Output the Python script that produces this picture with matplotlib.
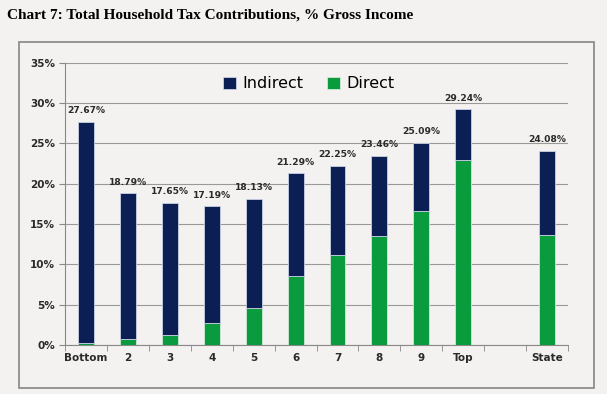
import numpy as np
import matplotlib
matplotlib.use("Agg")
import matplotlib.pyplot as plt
from matplotlib.patches import Rectangle

# Données
categories = ["Bottom", "2", "3", "4", "5", "6", "7", "8", "9", "Top", "", "State"]
totals = [27.67, 18.79, 17.65, 17.19, 18.13, 21.29, 22.25, 23.46, 25.09, 29.24, None, 24.08]
direct = [0.3, 0.75, 1.25, 2.7, 4.65, 8.55, 11.15, 13.5, 16.6, 22.9, None, 13.7]

bg = "#f3f2f0"
navy = "#0c1f55"
green = "#0b9b3f"

fig = plt.figure(figsize=(6.07, 3.94), dpi=100, facecolor=bg)
ax = fig.add_axes([0.107, 0.124, 0.829, 0.717])
ax.set_facecolor(bg)

# Cadre autour du graphique
frame = Rectangle((0.031, 0.015), 0.948, 0.878, transform=fig.transFigure,
                  fill=False, edgecolor="#858585", linewidth=1.2, zorder=0)
fig.patches.append(frame)

x = np.arange(len(categories))
idx = [i for i, t in enumerate(totals) if t is not None]
d = np.array([direct[i] for i in idx])
t = np.array([totals[i] for i in idx])
ind = t - d
xs = x[idx]

w = 0.38
ax.bar(xs, d, width=w, color=green, edgecolor="#cfe8d6", linewidth=0.6, label="Direct", zorder=3)
ax.bar(xs, ind, width=w, bottom=d, color=navy, edgecolor="#c9d2e3", linewidth=0.6, label="Indirect", zorder=3)

for xi, ti in zip(xs, t):
    ax.text(xi, ti + 0.8, f"{ti:.2f}%", ha="center", va="bottom", fontsize=6.6, fontweight="bold",
            color="#2a2a2a")

ax.set_xlim(-0.5, len(categories) - 0.5)
ax.set_ylim(0, 35)
ax.set_yticks(np.arange(0, 36, 5))
ax.set_yticklabels([f"{v}%" for v in range(0, 36, 5)], fontsize=7.5, fontweight="bold", color="#2a2a2a")
ax.set_xticks(x)
ax.set_xticklabels(categories, fontsize=7.5, fontweight="bold", color="#2a2a2a")
ax.set_xticks(np.arange(-0.5, len(categories)), minor=True)
ax.tick_params(axis="x", which="major", length=0, pad=6)
ax.tick_params(axis="x", which="minor", length=4, color="#888888", direction="out")
ax.tick_params(axis="y", length=4, color="#888888", pad=3)

ax.grid(axis="y", color="#999999", linewidth=0.8, zorder=0)
ax.set_axisbelow(True)
for s in ["top", "right"]:
    ax.spines[s].set_visible(False)
ax.spines["left"].set_color("#888888")
ax.spines["bottom"].set_color("#888888")

handles, labels = ax.get_legend_handles_labels()
ax.legend(handles[::-1], labels[::-1], loc="center", bbox_to_anchor=(0.485, 0.925), ncol=2,
          frameon=False, fontsize=11.5, handlelength=0.8, handleheight=0.8,
          columnspacing=1.5, handletextpad=0.4)

fig.text(0.012, 0.962, "Chart 7: Total Household Tax Contributions, % Gross Income",
         fontsize=11, fontweight="bold", family="Liberation Serif", ha="left", va="center")

fig.savefig("out.png", dpi=100, facecolor=bg)
